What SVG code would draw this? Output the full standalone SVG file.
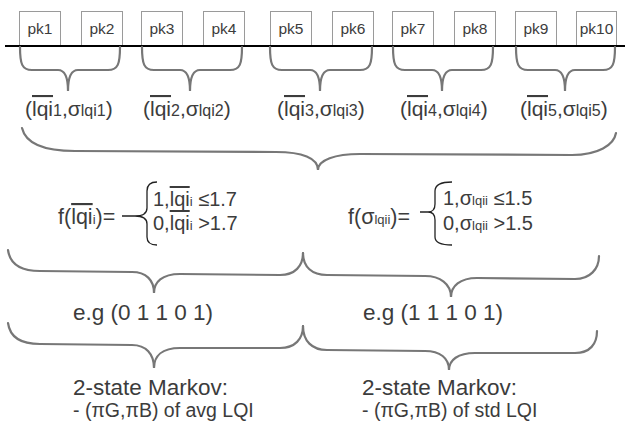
<svg xmlns="http://www.w3.org/2000/svg" width="625" height="421" viewBox="0 0 625 421">
<style>
text{font-family:"Liberation Sans",Arial,sans-serif;fill:#3c3c3c}
.pk rect{fill:#fff;stroke:#9a9a9a;stroke-width:1}
.pk text{font-size:15.5px;text-anchor:middle}
.br{fill:none;stroke:#777;stroke-width:2.2;stroke-linecap:round}
.pw{fill:none;stroke:#222;stroke-width:1.3}
.lbl{font-size:21px}
.sm{font-size:16px}
.ov{text-decoration:overline}
.f{font-size:20px}
.fl{font-size:21.5px}
.s2{font-size:13px}
.big{font-size:22.5px}
.mid{font-size:19.5px}
</style>
<g id="packets">
<g id="pk1" class="pk"><rect x="19.5" y="11.5" width="41" height="34"/><text x="40" y="34">pk1</text></g>
<g id="pk2" class="pk"><rect x="81.5" y="11.5" width="41" height="34"/><text x="102" y="34">pk2</text></g>
<g id="pk3" class="pk"><rect x="141.5" y="11.5" width="41" height="34"/><text x="162" y="34">pk3</text></g>
<g id="pk4" class="pk"><rect x="203.5" y="11.5" width="41" height="34"/><text x="224" y="34">pk4</text></g>
<g id="pk5" class="pk"><rect x="270.5" y="11.5" width="41" height="34"/><text x="291" y="34">pk5</text></g>
<g id="pk6" class="pk"><rect x="332.5" y="11.5" width="41" height="34"/><text x="353" y="34">pk6</text></g>
<g id="pk7" class="pk"><rect x="392.5" y="11.5" width="41" height="34"/><text x="413" y="34">pk7</text></g>
<g id="pk8" class="pk"><rect x="454.5" y="11.5" width="41" height="34"/><text x="475" y="34">pk8</text></g>
<g id="pk9" class="pk"><rect x="515.5" y="11.5" width="41" height="34"/><text x="536" y="34">pk9</text></g>
<g id="pk10" class="pk"><rect x="576.5" y="11.5" width="40" height="34"/><text x="596.5" y="34">pk10</text></g>
</g>
<line id="timeline" x1="5" y1="46" x2="625" y2="46" stroke="#000" stroke-width="2"/>
<g id="connectors">
<path class="br" d="M20,47 C20,64 22,70 32,70 L58,70 C65,70 68,77 68,91 C68,77 71,70 78,70 L108,70 C118,70 120,64 120,47"/>
<path class="br" d="M142,47 C142,64 144,70 154,70 L180,70 C187,70 190,77 190,91 C190,77 193,70 200,70 L230,70 C240,70 242,64 242,47"/>
<path class="br" d="M270,47 C270,64 272,70 282,70 L310,70 C317,70 320,77 320,91 C320,77 323,70 330,70 L360,70 C370,70 372,64 372,47"/>
<path class="br" d="M393,47 C393,64 395,70 405,70 L432,70 C439,70 442,77 442,91 C442,77 445,70 452,70 L481,70 C491,70 493,64 493,47"/>
<path class="br" d="M516,47 C516,64 518,70 528,70 L555,70 C562,70 565,77 565,91 C565,77 568,70 575,70 L603,70 C613,70 615,64 615,47"/>
<path class="br" d="M22,128 C26,145 48,151 75,151 L276,152 C302,152 318,158 318,170 C318,160 335,154 360,154 L572,155 C598,155 614,145 616,133"/>
<path class="br" d="M8,250 C10,265 22,271 40,271 L132,272 C146,272 154,280 154,293 C154,282 162,274 180,274 L280,275 C295,275 303,266 303,253"/>
<path class="br" d="M303,253 C303,267 312,275 327,275 L425,276 C440,276 451,284 451,297 C451,286 460,278 477,278 L575,279 C590,279 599,269 599,256"/>
<path class="br" d="M8,323 C10,338 22,344 40,344 L132,345 C146,345 154,354 154,368 C154,356 162,348 180,348 L280,348 C295,348 303,339 303,326"/>
<path class="br" d="M303,326 C303,341 312,350 327,350 L425,351 C440,351 449,358 449,370 C449,360 458,353 475,353 L575,353 C590,353 597,344 597,331"/>
</g>
<g id="label1"><text class="lbl" x="25" y="116">(<tspan class="ov">lqi</tspan><tspan class="sm">1</tspan>,σ<tspan class="sm">lqi1</tspan>)</text></g>
<g id="label2"><text class="lbl" x="143" y="116">(<tspan class="ov">lqi</tspan><tspan class="sm">2</tspan>,σ<tspan class="sm">lqi2</tspan>)</text></g>
<g id="label3"><text class="lbl" x="277" y="116">(<tspan class="ov">lqi</tspan><tspan class="sm">3</tspan>,σ<tspan class="sm">lqi3</tspan>)</text></g>
<g id="label4"><text class="lbl" x="400" y="116">(<tspan class="ov">lqi</tspan><tspan class="sm">4</tspan>,σ<tspan class="sm">lqi4</tspan>)</text></g>
<g id="label5"><text class="lbl" x="520" y="116">(<tspan class="ov">lqi</tspan><tspan class="sm">5</tspan>,σ<tspan class="sm">lqi5</tspan>)</text></g>
<g id="f-avg">
<text class="fl" x="58" y="224">f(<tspan class="ov">lqi</tspan><tspan class="s2">i</tspan>)=</text>
<path class="pw" d="M157,182 Q147,182 147,191 L147,208 Q147,216 135,216 L122,216 M135,216 Q147,216 147,224 L147,237 Q147,245 157,245"/>
<text class="f" x="153" y="206">1,<tspan class="ov">lqi</tspan><tspan class="s2">i</tspan> ≤1.7</text>
<text class="f" x="153" y="230">0,<tspan class="ov">lqi</tspan><tspan class="s2">i</tspan> &gt;1.7</text>
</g>
<g id="f-std">
<text class="fl" x="348" y="224">f(σ<tspan class="s2">lqii</tspan>)=</text>
<path class="pw" d="M452,182 Q435,182 435,191 L435,204 Q435,212 428,212 L420,212 M428,212 Q435,212 435,220 L435,237 Q435,245 452,245"/>
<text class="f" x="443" y="205">1,σ<tspan class="s2">lqii</tspan> ≤1.5</text>
<text class="f" x="443" y="230">0,σ<tspan class="s2">lqii</tspan> &gt;1.5</text>
</g>
<g id="eg-avg"><text class="big" x="73" y="320">e.g (0 1 1 0 1)</text></g>
<g id="eg-std"><text class="big" x="363" y="320">e.g (1 1 1 0 1)</text></g>
<g id="markov-avg">
<text class="big" x="73" y="395">2-state Markov:</text>
<text class="mid" x="73" y="417">- (πG,πB) of avg LQI</text>
</g>
<g id="markov-std">
<text class="big" x="362" y="395">2-state Markov:</text>
<text class="mid" x="362" y="417">- (πG,πB) of std LQI</text>
</g>
</svg>
